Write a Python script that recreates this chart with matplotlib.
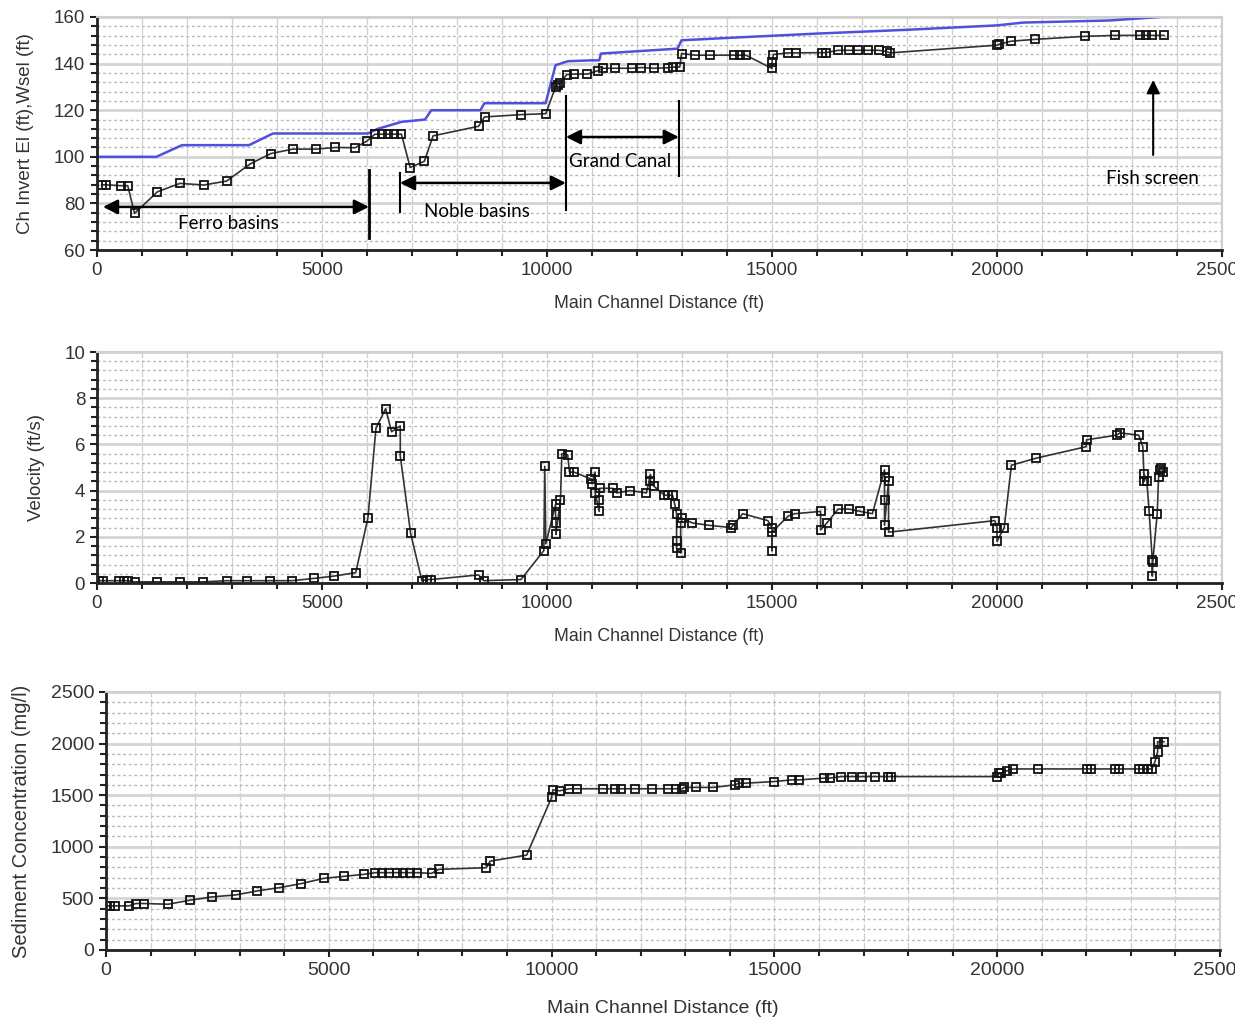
import matplotlib.pyplot as plt
from matplotlib.ticker import MultipleLocator
import numpy as np

plt.rcParams['font.family'] = ['Liberation Sans', 'DejaVu Sans']

# --- Panel 1: channel invert elevation and water surface (ft) ---
wsel_x = [0, 1320, 1890, 3380, 3910, 6020, 6240, 6770, 7290, 7430, 8520, 8610,
          9970, 10190, 10460, 10985, 11160, 11200, 12900, 12990, 14000, 16030,
          18000, 20000, 20580, 22500, 23620]
wsel_y = [100, 100, 105, 105, 110, 110, 112, 115, 116, 120, 120, 123,
          123, 139.3, 141, 141.4, 141.4, 144.3, 146.4, 150, 151, 152.9,
          154.5, 156.4, 157.6, 158.5, 160]

inv_x = [105, 193, 527, 685, 835, 1345, 1845, 2373, 2882, 3400, 3866, 4350,
         4860, 5300, 5738, 5993, 6178, 6327, 6459, 6590, 6766, 6960, 7276,
         7469, 8480, 8612, 9420, 9974, 10190, 10240, 10280, 10440, 10600,
         10900, 11140, 11250, 11520, 11880, 12100, 12370, 12680, 12810, 12950,
         12990, 13300, 13620, 14150, 14290, 14420, 15000, 15000, 15030, 15360,
         15540, 16115, 16200, 16470, 16700, 16920, 17140, 17370, 17545, 17620,
         20000, 20045, 20310, 20850, 21960, 22630, 23170, 23300, 23450, 23710]
inv_y = [88, 88, 87.6, 87.6, 75.7, 85, 88.6, 87.9, 89.6, 96.9, 101.4, 103.3,
         103.3, 104, 103.9, 106.7, 109.7, 109.7, 109.7, 109.7, 109.7, 95.4, 98.1,
         109, 113.1, 117.1, 118.1, 118.5, 130, 131, 131.5, 135.3, 135.5,
         135.5, 137, 138, 138, 138, 138.3, 138, 138.2, 138.5, 138.5,
         144.3, 143.6, 143.6, 143.6, 143.6, 143.6, 137.9, 140.5, 143.9, 144.6,
         144.6, 144.7, 144.7, 145.7, 145.7, 145.7, 145.7, 145.7, 145.2, 144.6,
         147.9, 148.3, 149.6, 150.4, 151.7, 152.1, 152.1, 152.1, 152.1, 152.1]

# --- Panel 2: velocity (ft/s) ---
vel_x = [44, 130, 483, 600, 685, 835, 1345, 1845, 2355, 2880, 3340, 3850,
         4330, 4830, 5270, 5750, 6020, 6200, 6415, 6546, 6740, 6740, 6970,
         7220, 7340, 7430, 8480, 8594, 9420, 9930, 9950, 9975, 10190, 10190,
         10200, 10200, 10300, 10330, 10460, 10500, 10600, 10985, 11000, 11070,
         11070, 11160, 11160, 11170, 11460, 11550, 11850, 12210, 12300, 12300,
         12370, 12610, 12700, 12790, 12840, 12880, 12880, 12880, 12970, 12970,
         13010, 13230, 13590, 14090, 14140, 14350, 14910, 15000, 15000, 15000,
         15360, 15510, 16080, 16080, 16220, 16470, 16710, 16960, 17230, 17500,
         17500, 17500, 17500, 17590, 17590, 19950, 20000, 20000, 20160, 20320,
         20860, 21980, 21990, 22660, 22730, 23150, 23240, 23270, 23270, 23330,
         23380, 23450, 23450, 23460, 23560, 23590, 23620, 23650, 23690]
vel_y = [0.1, 0.1, 0.1, 0.1, 0.1, 0.05, 0.05, 0.05, 0.05, 0.1, 0.1, 0.1,
         0.1, 0.2, 0.3, 0.45, 2.8, 6.7, 7.55, 6.55, 6.8, 5.5, 2.15,
         0.1, 0.15, 0.15, 0.35, 0.1, 0.15, 1.4, 5.05, 1.7, 3.4, 3.0,
         2.6, 2.1, 3.6, 5.6, 5.55, 4.8, 4.8, 4.5, 4.3, 4.8,
         3.9, 3.1, 3.6, 4.1, 4.1, 3.9, 4.0, 3.9, 4.7, 4.4,
         4.2, 3.8, 3.8, 3.8, 3.4, 3.0, 1.8, 1.5, 1.3, 2.6,
         2.8, 2.6, 2.5, 2.4, 2.5, 3.0, 2.7, 2.4, 1.4, 2.2,
         2.9, 3.0, 3.1, 2.3, 2.6, 3.2, 3.2, 3.1, 3.0, 4.9,
         4.6, 3.6, 2.5, 4.4, 2.2, 2.7, 2.4, 1.8, 2.4, 5.1,
         5.4, 5.9, 6.2, 6.4, 6.5, 6.4, 5.9, 4.4, 4.7, 4.4,
         3.1, 1.0, 0.3, 0.9, 3.0, 4.6, 4.9, 5.0, 4.8]

# --- Panel 3: sediment concentration (mg/l) ---
sed_x = [0, 90, 195, 515, 670, 845, 1395, 1885, 2373, 2907, 3396, 3893,
         4382, 4889, 5333, 5796, 6044, 6204, 6356, 6533, 6667, 6818, 6978,
         7307, 7467, 8533, 8622, 9440, 10000, 10030, 10180, 10400, 10560,
         11150, 11420, 11560, 11880, 12250, 12610, 12790, 12930, 12975, 13250,
         13630, 14115, 14200, 14360, 15000, 15390, 15550, 16120, 16240, 16500,
         16730, 16970, 17260, 17540, 17610, 20000, 20050, 20090, 20210, 20360,
         20910, 22010, 22100, 22650, 22740, 23190, 23280, 23380, 23470, 23540,
         23600, 23600, 23740]
sed_y = [427, 427, 427, 427, 450, 450, 443, 482, 514, 533, 572, 604,
         643, 694, 713, 733, 749, 749, 749, 749, 749, 749, 749,
         742, 781, 797, 861, 919, 1478, 1552, 1542, 1562, 1562,
         1562, 1562, 1562, 1562, 1562, 1562, 1562, 1562, 1575, 1575,
         1575, 1600, 1616, 1616, 1632, 1648, 1648, 1665, 1665, 1680,
         1680, 1680, 1680, 1680, 1680, 1680, 1713, 1713, 1735, 1754,
         1754, 1754, 1754, 1754, 1754, 1754, 1754, 1754, 1754, 1825,
         1921, 2018, 2018]

xlabel = 'Main Channel Distance (ft)'
txt_col = '#333333'

fig = plt.figure(figsize=(12.35, 10.23), dpi=100)
ax1 = fig.add_axes([0.0785, 0.7556, 0.911, 0.2278])
ax2 = fig.add_axes([0.0785, 0.4301, 0.911, 0.2258])
ax3 = fig.add_axes([0.0858, 0.0714, 0.9021, 0.2522])


def style(ax, ymax, ymin, ymajor, yminor, ylabel, fs_x, fs_y, fs_t, pad_x):
    ax.set_xlim(0, 25000)
    ax.set_ylim(ymin, ymax)
    ax.xaxis.set_major_locator(MultipleLocator(5000))
    ax.xaxis.set_minor_locator(MultipleLocator(1000))
    ax.yaxis.set_major_locator(MultipleLocator(ymajor))
    ax.yaxis.set_minor_locator(MultipleLocator(yminor))
    ax.grid(axis='y', which='major', color='#d4d4d4', lw=2.0)
    ax.grid(axis='y', which='minor', color='#b8b8b8', lw=1.0, ls=(0, (2, 2)))
    ax.grid(axis='x', which='both', color='#cfcfcf', lw=0.9, ls=(0, (6, 1.5)))
    ax.set_axisbelow(True)
    for s in ['top', 'right']:
        ax.spines[s].set_color('#cfcfcf')
        ax.spines[s].set_linewidth(1.5)
    for s in ['left', 'bottom']:
        ax.spines[s].set_color('#222222')
        ax.spines[s].set_linewidth(2.0)
    ax.tick_params(which='major', direction='out', length=5, width=1.5,
                   labelsize=fs_t, labelcolor=txt_col, color='#222222')
    ax.tick_params(which='minor', direction='out', length=4, width=1.5,
                   color='#222222')
    ax.set_xlabel(xlabel, fontsize=fs_x, color=txt_col, labelpad=pad_x)
    ax.set_ylabel(ylabel, fontsize=fs_y, color=txt_col, labelpad=14)


mk = dict(marker='s', ms=6, mfc='none', mec='#111111', mew=1.3,
          color='#333333', lw=1.2)

# Panel 1
ax1.plot(wsel_x, wsel_y, color='#5050dc', lw=1.8)
ax1.plot(inv_x, inv_y, **mk)
style(ax1, 160, 60, 20, 4, 'Ch Invert El (ft),Wsel (ft)', 12.8, 13.5, 13.5, 12)

ann = dict(fontsize=13.5, family='Lato', color='black')
arr = dict(arrowstyle='<|-|>', color='black', lw=1.8, mutation_scale=22,
           shrinkA=0, shrinkB=0)
ax1.plot([6044, 6044], [65.2, 94.3], color='black', lw=2)
ax1.annotate('', xy=(133, 78.5), xytext=(6044, 78.5), arrowprops=arr)
ax1.text(2930, 71.2, 'Ferro basins', ha='center', va='center', **ann)

ax1.plot([6733, 6733], [76.3, 93.0], color='black', lw=1.5)
ax1.annotate('', xy=(6733, 88.8), xytext=(10420, 88.8), arrowprops=arr)
ax1.text(8440, 76.7, 'Noble basins', ha='center', va='center', **ann)

ax1.plot([10420, 10420], [77.2, 126], color='black', lw=1.5)
ax1.annotate('', xy=(10420, 108.5), xytext=(12930, 108.5), arrowprops=arr)
ax1.text(11620, 98.2, 'Grand Canal', ha='center', va='center', **ann)
ax1.plot([12930, 12930], [91.8, 124], color='black', lw=1.5)

ax1.annotate('', xy=(23470, 133), xytext=(23470, 100.8),
             arrowprops=dict(arrowstyle='-|>', color='black', lw=1.5,
                             mutation_scale=20, shrinkA=0, shrinkB=0))
ax1.text(23450, 90.5, 'Fish screen', ha='center', va='center', **ann)

# Panel 2
ax2.plot(vel_x, vel_y, **mk)
style(ax2, 10, 0, 2, 0.4, 'Velocity (ft/s)', 12.8, 13.5, 13.5, 12)

# Panel 3
ax3.plot(sed_x, sed_y, **mk)
style(ax3, 2500, 0, 500, 100, 'Sediment Concentration (mg/l)',
      14, 14.5, 14, 15)

fig.savefig('out.png', dpi=100)
